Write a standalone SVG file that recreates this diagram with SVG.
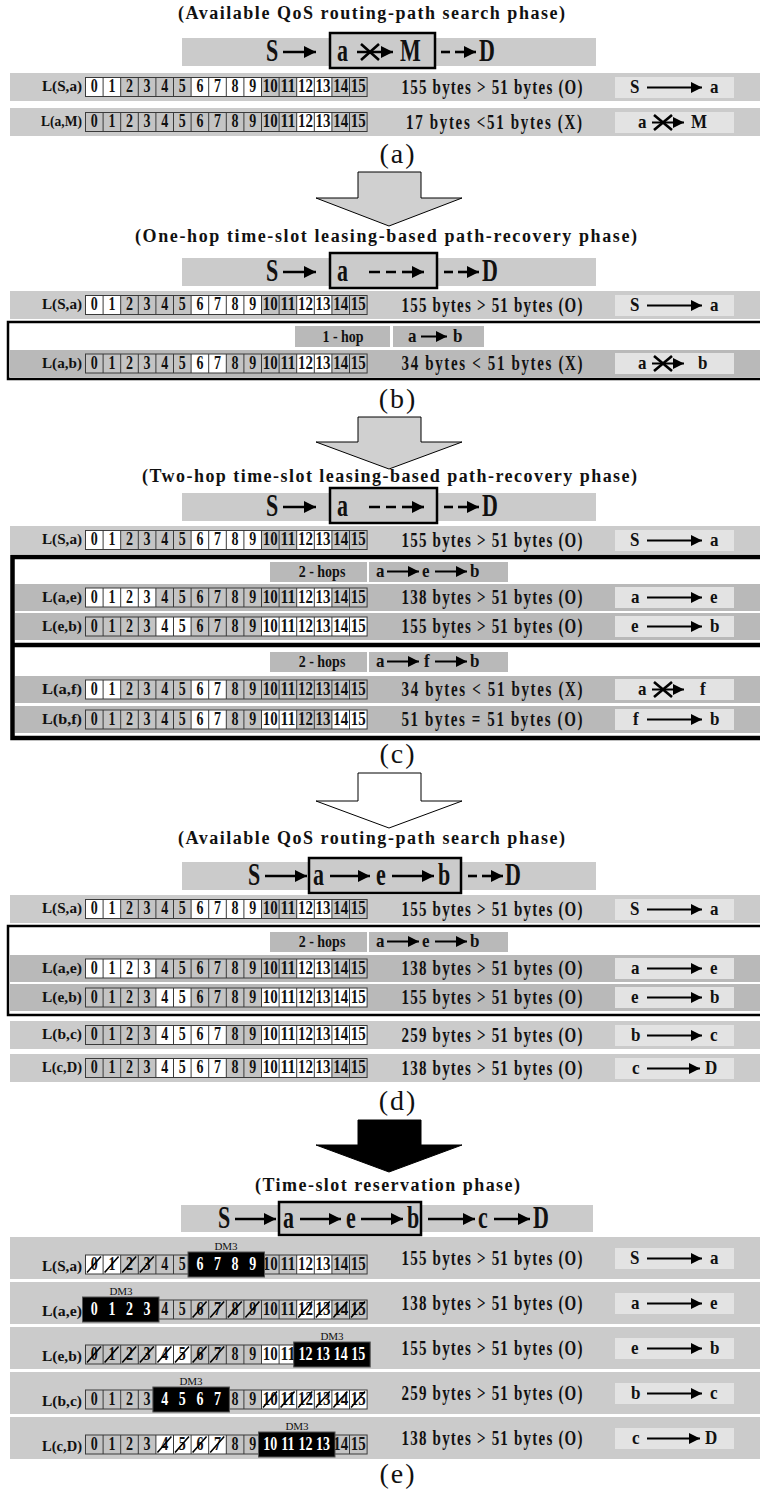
<svg xmlns="http://www.w3.org/2000/svg" width="760" height="1493" viewBox="0 0 760 1493">
<style>
text{font-family:"Liberation Serif","Times New Roman",serif;font-weight:bold;fill:#111}
.ttl{font-size:18px;text-anchor:middle}
.lab{font-size:12px;text-anchor:end}
.st{font-size:15px;text-anchor:middle}
.big{font-size:22px}
.rb{font-size:17px}
.hop{font-size:14px;text-anchor:middle}
.cap{font-size:28px;font-weight:normal;text-anchor:middle;letter-spacing:2px}
.dg{font-size:14px;text-anchor:middle}
.dw text{font-size:14px;text-anchor:middle;fill:#fff}
.dm{font-size:11px;font-weight:normal;text-anchor:middle}
.bar{fill:#cbcbcb}
.bar2{fill:#b9b9b9}
.rbox{fill:#e3e3e3}
.cg{fill:#c4c4c4}
.wc{fill:#fff}
.grid{fill:none;stroke:#3a3a3a;stroke-width:1}
.hl{fill:#cbcbcb;stroke:#000;stroke-width:2.5}
.pa{stroke:#000;stroke-width:2.6;fill:none}
.ra{stroke:#000;stroke-width:2;fill:none}
.xx{stroke:#000;stroke-width:2.6;fill:none}
.sl{stroke:#000;stroke-width:1.6;fill:none}
.blk{fill:#000;stroke:#555;stroke-width:1}
.frame{fill:#fff;stroke:#000}
</style>
<defs>
<marker id="ahb" viewBox="0 0 10 10" refX="10" refY="5" markerUnits="userSpaceOnUse" markerWidth="12" markerHeight="12" orient="auto"><path d="M0,0 L10,5 L0,10 z" fill="#000"/></marker>
<marker id="ah" viewBox="0 0 10 10" refX="10" refY="5" markerUnits="userSpaceOnUse" markerWidth="12" markerHeight="11" orient="auto"><path d="M0,0 L10,5 L0,10 z" fill="#000"/></marker>
<!-- 16-slot frame, 17.6 px per slot -->
<g id="grid">
<rect class="grid" x="0" y="0" width="281.6" height="19"/>
<path class="grid" d="M17.6,0v19M35.2,0v19M52.8,0v19M70.4,0v19M88,0v19M105.6,0v19M123.2,0v19M140.8,0v19M158.4,0v19M176,0v19M193.6,0v19M211.2,0v19M228.8,0v19M246.4,0v19M264,0v19"/>
</g>
<g id="dg" class="dg" transform="scale(1,1.35)">
<text x="8.8" y="11.1">0</text><text x="26.4" y="11.1">1</text><text x="44" y="11.1">2</text><text x="61.6" y="11.1">3</text>
<text x="79.2" y="11.1">4</text><text x="96.8" y="11.1">5</text><text x="114.4" y="11.1">6</text><text x="132" y="11.1">7</text>
<text x="149.6" y="11.1">8</text><text x="167.2" y="11.1">9</text>
<text x="184.8" y="11.1" textLength="15" lengthAdjust="spacingAndGlyphs">10</text>
<text x="202.4" y="11.1" textLength="15" lengthAdjust="spacingAndGlyphs">11</text>
<text x="220" y="11.1" textLength="15" lengthAdjust="spacingAndGlyphs">12</text>
<text x="237.6" y="11.1" textLength="15" lengthAdjust="spacingAndGlyphs">13</text>
<text x="255.2" y="11.1" textLength="15" lengthAdjust="spacingAndGlyphs">14</text>
<text x="272.8" y="11.1" textLength="15" lengthAdjust="spacingAndGlyphs">15</text>
</g>
<!-- slot strips: gray = busy, white = free -->
<g id="s-SA"><rect class="cg" width="281.6" height="19"/><path class="wc" d="M0,0h35.2v19h-35.2zM105.6,0h70.4v19h-70.4zM211.2,0h35.2v19h-35.2z"/><use href="#grid"/><use href="#dg"/></g>
<g id="s-aM"><rect class="cg" width="281.6" height="19"/><path class="wc" d="M211.2,0h35.2v19h-35.2z"/><use href="#grid"/><use href="#dg"/></g>
<g id="s-ab"><rect class="cg" width="281.6" height="19"/><path class="wc" d="M105.6,0h35.2v19h-35.2zM211.2,0h35.2v19h-35.2z"/><use href="#grid"/><use href="#dg"/></g>
<g id="s-ae"><rect class="cg" width="281.6" height="19"/><path class="wc" d="M0,0h70.4v19h-70.4zM211.2,0h35.2v19h-35.2z"/><use href="#grid"/><use href="#dg"/></g>
<g id="s-eb"><rect class="cg" width="281.6" height="19"/><path class="wc" d="M70.4,0h35.2v19h-35.2zM176,0h105.6v19h-105.6z"/><use href="#grid"/><use href="#dg"/></g>
<g id="s-af"><rect class="cg" width="281.6" height="19"/><path class="wc" d="M0,0h35.2v19h-35.2zM105.6,0h35.2v19h-35.2z"/><use href="#grid"/><use href="#dg"/></g>
<g id="s-bf"><rect class="cg" width="281.6" height="19"/><path class="wc" d="M105.6,0h35.2v19h-35.2zM176,0h35.2v19h-35.2zM246.4,0h35.2v19h-35.2z"/><use href="#grid"/><use href="#dg"/></g>
<g id="s-bc"><rect class="cg" width="281.6" height="19"/><path class="wc" d="M70.4,0h70.4v19h-70.4zM176,0h105.6v19h-105.6z"/><use href="#grid"/><use href="#dg"/></g>
<g id="s-cD"><rect class="cg" width="281.6" height="19"/><path class="wc" d="M70.4,0h70.4v19h-70.4zM176,0h70.4v19h-70.4z"/><use href="#grid"/><use href="#dg"/></g>
</defs>

<rect width="760" height="1493" fill="#fff"/>

<!-- ===== (a) ===== -->
<text class="ttl" x="371.5" y="19" textLength="387" lengthAdjust="spacing">(Available QoS routing-path search  phase)</text>
<g id="path-a">
<rect class="bar" x="182" y="38" width="414" height="28"/>
<rect class="hl" x="330" y="33" width="105" height="35"/>
<text class="big" transform="translate(266,61) scale(1,1.45)">S</text>
<line class="pa" x1="283" y1="52" x2="316" y2="52" marker-end="url(#ahb)"/>
<text class="big" transform="translate(337,61) scale(1,1.45)">a</text>
<line class="pa" x1="357" y1="52" x2="393" y2="52" marker-end="url(#ahb)"/>
<path class="xx" d="M361,44L379,60M361,60L379,44"/>
<text class="big" transform="translate(400,61) scale(1,1.45)">M</text>
<path class="pa" d="M441,52h9"/>
<line class="pa" x1="455" y1="52" x2="476" y2="52" marker-end="url(#ahb)"/>
<text class="big" transform="translate(479,61) scale(1,1.45)">D</text>
</g>
<g id="row-a1">
<rect class="bar" x="10" y="73" width="750" height="28"/>
<text class="lab" transform="translate(82,91) scale(1,1.25)" textLength="40" lengthAdjust="spacingAndGlyphs">L(S,a)</text>
<use href="#s-SA" x="85.5" y="77.5"/>
<text class="st" transform="translate(492,94) scale(1,1.4)" textLength="181" lengthAdjust="spacing">155 bytes &gt; 51 bytes (O)</text>
<rect class="rbox" x="615" y="77" width="119" height="21"/>
<text class="rb" transform="translate(630,93) scale(1,1.15)">S</text>
<line class="ra" x1="647" y1="87.5" x2="702" y2="87.5" marker-end="url(#ah)"/>
<text class="rb" transform="translate(710,93) scale(1,1.15)">a</text>
</g>
<g id="row-a2">
<rect class="bar" x="10" y="108" width="750" height="28"/>
<text class="lab" transform="translate(82,126) scale(1,1.25)" textLength="41" lengthAdjust="spacingAndGlyphs">L(a,M)</text>
<use href="#s-aM" x="85.5" y="112.5"/>
<text class="st" transform="translate(494,129) scale(1,1.4)" textLength="176" lengthAdjust="spacing">17 bytes  &lt;51 bytes (X)</text>
<rect class="rbox" x="615" y="112" width="119" height="21"/>
<text class="rb" transform="translate(638,128) scale(1,1.15)">a</text>
<line class="ra" x1="652" y1="122.5" x2="684" y2="122.5" marker-end="url(#ah)"/>
<path class="xx" d="M654,115L672,130M654,130L672,115"/>
<text class="rb" transform="translate(691,128) scale(1,1.15)">M</text>
</g>
<text class="cap" x="398" y="163">(a)</text>

<!-- ===== (b) ===== -->
<text class="ttl" x="386" y="242" textLength="502" lengthAdjust="spacing">(One-hop time-slot leasing-based path-recovery phase)</text>
<g id="path-b">
<rect class="bar" x="182" y="258" width="414" height="28"/>
<rect class="hl" x="330" y="253" width="107" height="35"/>
<text class="big" transform="translate(266,281) scale(1,1.45)">S</text>
<line class="pa" x1="283" y1="272" x2="316" y2="272" marker-end="url(#ahb)"/>
<text class="big" transform="translate(337,281) scale(1,1.45)">a</text>
<path class="pa" d="M369,272h11M386,272h10"/>
<line class="pa" x1="402" y1="272" x2="424" y2="272" marker-end="url(#ahb)"/>
<path class="pa" d="M444,272h9"/>
<line class="pa" x1="458" y1="272" x2="479" y2="272" marker-end="url(#ahb)"/>
<text class="big" transform="translate(482,281) scale(1,1.45)">D</text>
</g>
<g id="row-b1">
<rect class="bar" x="10" y="291" width="750" height="28"/>
<text class="lab" transform="translate(82,309) scale(1,1.25)" textLength="40" lengthAdjust="spacingAndGlyphs">L(S,a)</text>
<use href="#s-SA" x="85.5" y="295.5"/>
<text class="st" transform="translate(492,312) scale(1,1.4)" textLength="181" lengthAdjust="spacing">155 bytes &gt; 51 bytes (O)</text>
<rect class="rbox" x="615" y="295" width="119" height="21"/>
<text class="rb" transform="translate(630,311) scale(1,1.15)">S</text>
<line class="ra" x1="647" y1="305.5" x2="702" y2="305.5" marker-end="url(#ah)"/>
<text class="rb" transform="translate(710,311) scale(1,1.15)">a</text>
</g>
<g id="box-b">
<rect class="frame" x="8" y="322" width="760" height="57" stroke-width="2.5"/>
<rect class="bar2" x="295" y="326" width="95" height="21"/>
<text class="hop" transform="translate(343,342) scale(1,1.2)">1 - hop</text>
<rect class="bar2" x="393" y="326" width="91" height="21"/>
<text class="rb" transform="translate(408,342) scale(1,1.15)">a</text>
<line class="ra" x1="421" y1="336.5" x2="447" y2="336.5" marker-end="url(#ah)"/>
<text class="rb" transform="translate(453,342) scale(1,1.15)">b</text>
</g>
<g id="row-b2">
<rect class="bar2" x="10" y="350" width="750" height="27"/>
<text class="lab" transform="translate(82,368) scale(1,1.25)" textLength="40" lengthAdjust="spacingAndGlyphs">L(a,b)</text>
<use href="#s-ab" x="85.5" y="354"/>
<text class="st" transform="translate(492,370) scale(1,1.4)" textLength="181" lengthAdjust="spacing">34 bytes  &lt;  51 bytes (X)</text>
<rect class="rbox" x="615" y="353" width="119" height="21"/>
<text class="rb" transform="translate(638,369) scale(1,1.15)">a</text>
<line class="ra" x1="652" y1="363.5" x2="684" y2="363.5" marker-end="url(#ah)"/>
<path class="xx" d="M654,356L672,371M654,371L672,356"/>
<text class="rb" transform="translate(698,369) scale(1,1.15)">b</text>
</g>
<text class="cap" x="398" y="408">(b)</text>

<!-- ===== (c) ===== -->
<text class="ttl" x="389.5" y="482" textLength="495" lengthAdjust="spacing">(Two-hop time-slot leasing-based path-recovery phase)</text>
<g id="path-c">
<rect class="bar" x="182" y="493" width="414" height="28"/>
<rect class="hl" x="330" y="488" width="107" height="35"/>
<text class="big" transform="translate(266,516) scale(1,1.45)">S</text>
<line class="pa" x1="283" y1="507" x2="316" y2="507" marker-end="url(#ahb)"/>
<text class="big" transform="translate(337,516) scale(1,1.45)">a</text>
<path class="pa" d="M369,507h11M386,507h10"/>
<line class="pa" x1="402" y1="507" x2="424" y2="507" marker-end="url(#ahb)"/>
<path class="pa" d="M444,507h9"/>
<line class="pa" x1="458" y1="507" x2="479" y2="507" marker-end="url(#ahb)"/>
<text class="big" transform="translate(482,516) scale(1,1.45)">D</text>
</g>
<g id="row-c1">
<rect class="bar" x="10" y="526" width="750" height="28"/>
<text class="lab" transform="translate(82,544) scale(1,1.25)" textLength="40" lengthAdjust="spacingAndGlyphs">L(S,a)</text>
<use href="#s-SA" x="85.5" y="530.5"/>
<text class="st" transform="translate(492,547) scale(1,1.4)" textLength="181" lengthAdjust="spacing">155 bytes &gt; 51 bytes (O)</text>
<rect class="rbox" x="615" y="530" width="119" height="21"/>
<text class="rb" transform="translate(630,546) scale(1,1.15)">S</text>
<line class="ra" x1="647" y1="540.5" x2="702" y2="540.5" marker-end="url(#ah)"/>
<text class="rb" transform="translate(710,546) scale(1,1.15)">a</text>
</g>
<g id="box-c">
<rect class="frame" x="12.5" y="557" width="760" height="181" stroke-width="4.5"/>
<line x1="12" y1="645" x2="760" y2="645" stroke="#000" stroke-width="4.5"/>
<rect class="bar2" x="270" y="562" width="97" height="20"/>
<text class="hop" transform="translate(322,577) scale(1,1.2)">2 - hops</text>
<rect class="bar2" x="369" y="562" width="139" height="20"/>
<text class="rb" transform="translate(376,577) scale(1,1.15)">a</text>
<line class="ra" x1="387" y1="571.5" x2="419" y2="571.5" marker-end="url(#ah)"/>
<text class="rb" transform="translate(422,577) scale(1,1.15)">e</text>
<line class="ra" x1="435" y1="571.5" x2="467" y2="571.5" marker-end="url(#ah)"/>
<text class="rb" transform="translate(470,577) scale(1,1.15)">b</text>
<rect class="bar2" x="270" y="652" width="97" height="20"/>
<text class="hop" transform="translate(322,667) scale(1,1.2)">2 - hops</text>
<rect class="bar2" x="369" y="652" width="139" height="20"/>
<text class="rb" transform="translate(376,667) scale(1,1.15)">a</text>
<line class="ra" x1="387" y1="661.5" x2="419" y2="661.5" marker-end="url(#ah)"/>
<text class="rb" transform="translate(424,667) scale(1,1.15)">f</text>
<line class="ra" x1="435" y1="661.5" x2="467" y2="661.5" marker-end="url(#ah)"/>
<text class="rb" transform="translate(470,667) scale(1,1.15)">b</text>
</g>
<g id="row-c2">
<rect class="bar2" x="15" y="584" width="745" height="27"/>
<text class="lab" transform="translate(82,602) scale(1,1.25)" textLength="40" lengthAdjust="spacingAndGlyphs">L(a,e)</text>
<use href="#s-ae" x="85.5" y="588"/>
<text class="st" transform="translate(492,604) scale(1,1.4)" textLength="181" lengthAdjust="spacing">138 bytes &gt; 51 bytes (O)</text>
<rect class="rbox" x="615" y="587" width="119" height="21"/>
<text class="rb" transform="translate(631,603) scale(1,1.15)">a</text>
<line class="ra" x1="647" y1="597.5" x2="702" y2="597.5" marker-end="url(#ah)"/>
<text class="rb" transform="translate(710,603) scale(1,1.15)">e</text>
</g>
<g id="row-c3">
<rect class="bar2" x="15" y="613" width="745" height="27"/>
<text class="lab" transform="translate(82,631) scale(1,1.25)" textLength="40" lengthAdjust="spacingAndGlyphs">L(e,b)</text>
<use href="#s-eb" x="85.5" y="617"/>
<text class="st" transform="translate(492,633) scale(1,1.4)" textLength="181" lengthAdjust="spacing">155 bytes &gt; 51 bytes (O)</text>
<rect class="rbox" x="615" y="616" width="119" height="21"/>
<text class="rb" transform="translate(631,632) scale(1,1.15)">e</text>
<line class="ra" x1="647" y1="626.5" x2="702" y2="626.5" marker-end="url(#ah)"/>
<text class="rb" transform="translate(710,632) scale(1,1.15)">b</text>
</g>
<g id="row-c4">
<rect class="bar2" x="15" y="676" width="745" height="27"/>
<text class="lab" transform="translate(82,694) scale(1,1.25)" textLength="40" lengthAdjust="spacingAndGlyphs">L(a,f)</text>
<use href="#s-af" x="85.5" y="680"/>
<text class="st" transform="translate(492,696) scale(1,1.4)" textLength="181" lengthAdjust="spacing">34 bytes  &lt;  51 bytes (X)</text>
<rect class="rbox" x="615" y="679" width="119" height="21"/>
<text class="rb" transform="translate(638,695) scale(1,1.15)">a</text>
<line class="ra" x1="652" y1="689.5" x2="684" y2="689.5" marker-end="url(#ah)"/>
<path class="xx" d="M654,682L672,697M654,697L672,682"/>
<text class="rb" transform="translate(700,695) scale(1,1.15)">f</text>
</g>
<g id="row-c5">
<rect class="bar2" x="15" y="706" width="745" height="27"/>
<text class="lab" transform="translate(82,724) scale(1,1.25)" textLength="40" lengthAdjust="spacingAndGlyphs">L(b,f)</text>
<use href="#s-bf" x="85.5" y="710"/>
<text class="st" transform="translate(492,726) scale(1,1.4)" textLength="181" lengthAdjust="spacing">51 bytes  =  51 bytes (O)</text>
<rect class="rbox" x="615" y="709" width="119" height="21"/>
<text class="rb" transform="translate(633,725) scale(1,1.15)">f</text>
<line class="ra" x1="647" y1="719.5" x2="702" y2="719.5" marker-end="url(#ah)"/>
<text class="rb" transform="translate(710,725) scale(1,1.15)">b</text>
</g>
<text class="cap" x="398" y="763">(c)</text>

<!-- ===== (d) ===== -->
<text class="ttl" x="371.5" y="844" textLength="387" lengthAdjust="spacing">(Available QoS routing-path search  phase)</text>
<g id="path-d">
<rect class="bar" x="182" y="862" width="414" height="28"/>
<rect class="hl" x="309" y="858" width="152" height="35"/>
<text class="big" transform="translate(248,885) scale(1,1.45)">S</text>
<line class="pa" x1="265" y1="876" x2="307" y2="876" marker-end="url(#ahb)"/>
<text class="big" transform="translate(313,885) scale(1,1.45)">a</text>
<line class="pa" x1="330" y1="876" x2="370" y2="876" marker-end="url(#ahb)"/>
<text class="big" transform="translate(376,885) scale(1,1.45)">e</text>
<line class="pa" x1="392" y1="876" x2="434" y2="876" marker-end="url(#ahb)"/>
<text class="big" transform="translate(438,885) scale(1,1.45)">b</text>
<path class="pa" d="M468,876h9"/>
<line class="pa" x1="482" y1="876" x2="503" y2="876" marker-end="url(#ahb)"/>
<text class="big" transform="translate(505,885) scale(1,1.45)">D</text>
</g>
<g id="row-d1">
<rect class="bar" x="10" y="895" width="750" height="28"/>
<text class="lab" transform="translate(82,913) scale(1,1.25)" textLength="40" lengthAdjust="spacingAndGlyphs">L(S,a)</text>
<use href="#s-SA" x="85.5" y="899.5"/>
<text class="st" transform="translate(492,916) scale(1,1.4)" textLength="181" lengthAdjust="spacing">155 bytes &gt; 51 bytes (O)</text>
<rect class="rbox" x="615" y="899" width="119" height="21"/>
<text class="rb" transform="translate(630,915) scale(1,1.15)">S</text>
<line class="ra" x1="647" y1="909.5" x2="702" y2="909.5" marker-end="url(#ah)"/>
<text class="rb" transform="translate(710,915) scale(1,1.15)">a</text>
</g>
<g id="box-d">
<rect class="frame" x="8" y="926" width="760" height="89" stroke-width="2.5"/>
<rect class="bar2" x="270" y="932" width="97" height="20"/>
<text class="hop" transform="translate(322,947) scale(1,1.2)">2 - hops</text>
<rect class="bar2" x="369" y="932" width="139" height="20"/>
<text class="rb" transform="translate(376,947) scale(1,1.15)">a</text>
<line class="ra" x1="387" y1="941.5" x2="419" y2="941.5" marker-end="url(#ah)"/>
<text class="rb" transform="translate(422,947) scale(1,1.15)">e</text>
<line class="ra" x1="435" y1="941.5" x2="467" y2="941.5" marker-end="url(#ah)"/>
<text class="rb" transform="translate(470,947) scale(1,1.15)">b</text>
</g>
<g id="row-d2">
<rect class="bar2" x="10" y="955" width="750" height="27"/>
<text class="lab" transform="translate(82,973) scale(1,1.25)" textLength="40" lengthAdjust="spacingAndGlyphs">L(a,e)</text>
<use href="#s-ae" x="85.5" y="959"/>
<text class="st" transform="translate(492,975) scale(1,1.4)" textLength="181" lengthAdjust="spacing">138 bytes &gt; 51 bytes (O)</text>
<rect class="rbox" x="615" y="958" width="119" height="21"/>
<text class="rb" transform="translate(631,974) scale(1,1.15)">a</text>
<line class="ra" x1="647" y1="968.5" x2="702" y2="968.5" marker-end="url(#ah)"/>
<text class="rb" transform="translate(710,974) scale(1,1.15)">e</text>
</g>
<g id="row-d3">
<rect class="bar2" x="10" y="984" width="750" height="27"/>
<text class="lab" transform="translate(82,1002) scale(1,1.25)" textLength="40" lengthAdjust="spacingAndGlyphs">L(e,b)</text>
<use href="#s-eb" x="85.5" y="988"/>
<text class="st" transform="translate(492,1004) scale(1,1.4)" textLength="181" lengthAdjust="spacing">155 bytes &gt; 51 bytes (O)</text>
<rect class="rbox" x="615" y="987" width="119" height="21"/>
<text class="rb" transform="translate(631,1003) scale(1,1.15)">e</text>
<line class="ra" x1="647" y1="997.5" x2="702" y2="997.5" marker-end="url(#ah)"/>
<text class="rb" transform="translate(710,1003) scale(1,1.15)">b</text>
</g>
<g id="row-d4">
<rect class="bar" x="10" y="1021" width="750" height="28"/>
<text class="lab" transform="translate(82,1039) scale(1,1.25)" textLength="40" lengthAdjust="spacingAndGlyphs">L(b,c)</text>
<use href="#s-bc" x="85.5" y="1025.5"/>
<text class="st" transform="translate(492,1042) scale(1,1.4)" textLength="181" lengthAdjust="spacing">259 bytes &gt; 51 bytes (O)</text>
<rect class="rbox" x="615" y="1025" width="119" height="21"/>
<text class="rb" transform="translate(631,1041) scale(1,1.15)">b</text>
<line class="ra" x1="647" y1="1035.5" x2="702" y2="1035.5" marker-end="url(#ah)"/>
<text class="rb" transform="translate(710,1041) scale(1,1.15)">c</text>
</g>
<g id="row-d5">
<rect class="bar" x="10" y="1054" width="750" height="28"/>
<text class="lab" transform="translate(82,1072) scale(1,1.25)" textLength="40" lengthAdjust="spacingAndGlyphs">L(c,D)</text>
<use href="#s-cD" x="85.5" y="1058.5"/>
<text class="st" transform="translate(492,1075) scale(1,1.4)" textLength="181" lengthAdjust="spacing">138 bytes &gt; 51 bytes (O)</text>
<rect class="rbox" x="615" y="1058" width="119" height="21"/>
<text class="rb" transform="translate(632,1074) scale(1,1.15)">c</text>
<line class="ra" x1="647" y1="1068.5" x2="700" y2="1068.5" marker-end="url(#ah)"/>
<text class="rb" transform="translate(705,1074) scale(1,1.15)">D</text>
</g>
<text class="cap" x="398" y="1110">(d)</text>

<!-- ===== (e) ===== -->
<text class="ttl" x="387.5" y="1191" textLength="265" lengthAdjust="spacing">(Time-slot reservation phase)</text>
<g id="path-e">
<rect class="bar" x="181" y="1205" width="412" height="27"/>
<rect class="hl" x="279" y="1202" width="142" height="33"/>
<text class="big" transform="translate(218,1228) scale(1,1.45)">S</text>
<line class="pa" x1="235" y1="1219" x2="276" y2="1219" marker-end="url(#ahb)"/>
<text class="big" transform="translate(283,1228) scale(1,1.45)">a</text>
<line class="pa" x1="300" y1="1219" x2="341" y2="1219" marker-end="url(#ahb)"/>
<text class="big" transform="translate(346,1228) scale(1,1.45)">e</text>
<line class="pa" x1="361" y1="1219" x2="403" y2="1219" marker-end="url(#ahb)"/>
<text class="big" transform="translate(407,1228) scale(1,1.45)">b</text>
<line class="pa" x1="428" y1="1219" x2="475" y2="1219" marker-end="url(#ahb)"/>
<text class="big" transform="translate(478,1228) scale(1,1.45)">c</text>
<line class="pa" x1="494" y1="1219" x2="530" y2="1219" marker-end="url(#ahb)"/>
<text class="big" transform="translate(533,1228) scale(1,1.45)">D</text>
</g>
<g id="row-e1">
<rect class="bar" x="10" y="1237" width="750" height="42"/>
<text class="lab" transform="translate(82,1271) scale(1,1.25)" textLength="40" lengthAdjust="spacingAndGlyphs">L(S,a)</text>
<use href="#s-SA" x="85.5" y="1255"/>
<path class="sl" d="M87,1272.5L101,1256.5M104.6,1272.5L118.6,1256.5M122.2,1272.5L136.2,1256.5M139.8,1272.5L153.8,1256.5"/>
<rect class="blk" x="188" y="1252" width="76.5" height="25"/>
<g class="dw" transform="translate(0,1270) scale(1,1.35)"><text x="199.9">6</text><text x="217.5">7</text><text x="235.1">8</text><text x="252.7">9</text></g>
<text class="dm" x="226" y="1250">DM3</text>
<text class="st" transform="translate(492,1265) scale(1,1.4)" textLength="181" lengthAdjust="spacing">155 bytes &gt; 51 bytes (O)</text>
<rect class="rbox" x="615" y="1248" width="119" height="21"/>
<text class="rb" transform="translate(630,1264) scale(1,1.15)">S</text>
<line class="ra" x1="647" y1="1258.5" x2="702" y2="1258.5" marker-end="url(#ah)"/>
<text class="rb" transform="translate(710,1264) scale(1,1.15)">a</text>
</g>
<g id="row-e2">
<rect class="bar" x="10" y="1282" width="750" height="42"/>
<text class="lab" transform="translate(82,1316) scale(1,1.25)" textLength="40" lengthAdjust="spacingAndGlyphs">L(a,e)</text>
<use href="#s-ae" x="85.5" y="1300"/>
<path class="sl" d="M192.6,1317.5L206.6,1301.5M210.2,1317.5L224.2,1301.5M227.8,1317.5L241.8,1301.5M245.4,1317.5L259.4,1301.5M298.2,1317.5L312.2,1301.5M315.8,1317.5L329.8,1301.5M333.4,1317.5L347.4,1301.5M351,1317.5L365,1301.5"/>
<rect class="blk" x="82.5" y="1297" width="76.5" height="25"/>
<g class="dw" transform="translate(0,1315) scale(1,1.35)"><text x="94.3">0</text><text x="111.9">1</text><text x="129.5">2</text><text x="147.1">3</text></g>
<text class="dm" x="121" y="1295">DM3</text>
<text class="st" transform="translate(492,1310) scale(1,1.4)" textLength="181" lengthAdjust="spacing">138 bytes &gt; 51 bytes (O)</text>
<rect class="rbox" x="615" y="1293" width="119" height="21"/>
<text class="rb" transform="translate(631,1309) scale(1,1.15)">a</text>
<line class="ra" x1="647" y1="1303.5" x2="702" y2="1303.5" marker-end="url(#ah)"/>
<text class="rb" transform="translate(710,1309) scale(1,1.15)">e</text>
</g>
<g id="row-e3">
<rect class="bar" x="10" y="1327" width="750" height="42"/>
<text class="lab" transform="translate(82,1361) scale(1,1.25)" textLength="40" lengthAdjust="spacingAndGlyphs">L(e,b)</text>
<use href="#s-eb" x="85.5" y="1345"/>
<path class="sl" d="M87,1362.5L101,1346.5M104.6,1362.5L118.6,1346.5M122.2,1362.5L136.2,1346.5M139.8,1362.5L153.8,1346.5M157.4,1362.5L171.4,1346.5M175,1362.5L189,1346.5M192.6,1362.5L206.6,1346.5M210.2,1362.5L224.2,1346.5"/>
<rect class="blk" x="293.7" y="1342" width="76.5" height="25"/>
<g class="dw" transform="translate(0,1360) scale(1,1.35)"><text x="305.5">12</text><text x="323.1">13</text><text x="340.7">14</text><text x="358.3">15</text></g>
<text class="dm" x="332" y="1340">DM3</text>
<text class="st" transform="translate(492,1355) scale(1,1.4)" textLength="181" lengthAdjust="spacing">155 bytes &gt; 51 bytes (O)</text>
<rect class="rbox" x="615" y="1338" width="119" height="21"/>
<text class="rb" transform="translate(631,1354) scale(1,1.15)">e</text>
<line class="ra" x1="647" y1="1348.5" x2="702" y2="1348.5" marker-end="url(#ah)"/>
<text class="rb" transform="translate(710,1354) scale(1,1.15)">b</text>
</g>
<g id="row-e4">
<rect class="bar" x="10" y="1372" width="750" height="42"/>
<text class="lab" transform="translate(82,1406) scale(1,1.25)" textLength="40" lengthAdjust="spacingAndGlyphs">L(b,c)</text>
<use href="#s-bc" x="85.5" y="1390"/>
<path class="sl" d="M263,1407.5L277,1391.5M280.6,1407.5L294.6,1391.5M298.2,1407.5L312.2,1391.5M315.8,1407.5L329.8,1391.5M333.4,1407.5L347.4,1391.5M351,1407.5L365,1391.5"/>
<rect class="blk" x="152.9" y="1387" width="76.5" height="25"/>
<g class="dw" transform="translate(0,1405) scale(1,1.35)"><text x="164.7">4</text><text x="182.3">5</text><text x="199.9">6</text><text x="217.5">7</text></g>
<text class="dm" x="191" y="1385">DM3</text>
<text class="st" transform="translate(492,1400) scale(1,1.4)" textLength="181" lengthAdjust="spacing">259 bytes &gt; 51 bytes (O)</text>
<rect class="rbox" x="615" y="1383" width="119" height="21"/>
<text class="rb" transform="translate(631,1399) scale(1,1.15)">b</text>
<line class="ra" x1="647" y1="1393.5" x2="702" y2="1393.5" marker-end="url(#ah)"/>
<text class="rb" transform="translate(710,1399) scale(1,1.15)">c</text>
</g>
<g id="row-e5">
<rect class="bar" x="10" y="1417" width="750" height="42"/>
<text class="lab" transform="translate(82,1451) scale(1,1.25)" textLength="40" lengthAdjust="spacingAndGlyphs">L(c,D)</text>
<use href="#s-cD" x="85.5" y="1435"/>
<path class="sl" d="M157.4,1452.5L171.4,1436.5M175,1452.5L189,1436.5M192.6,1452.5L206.6,1436.5M210.2,1452.5L224.2,1436.5"/>
<rect class="blk" x="258.5" y="1432" width="76.5" height="25"/>
<g class="dw" transform="translate(0,1450) scale(1,1.35)"><text x="270.3">10</text><text x="287.9">11</text><text x="305.5">12</text><text x="323.1">13</text></g>
<text class="dm" x="297" y="1430">DM3</text>
<text class="st" transform="translate(492,1445) scale(1,1.4)" textLength="181" lengthAdjust="spacing">138 bytes &gt; 51 bytes (O)</text>
<rect class="rbox" x="615" y="1428" width="119" height="21"/>
<text class="rb" transform="translate(632,1444) scale(1,1.15)">c</text>
<line class="ra" x1="647" y1="1438.5" x2="700" y2="1438.5" marker-end="url(#ah)"/>
<text class="rb" transform="translate(705,1444) scale(1,1.15)">D</text>
</g>
<text class="cap" x="398" y="1483">(e)</text>

<!-- block arrows between phases -->
<g id="connectors" stroke="#000" stroke-width="1">
<path d="M358,172H421V198H462L389,226L316,198H358Z" fill="#d0d0d0"/>
<path d="M358,417H421V442H462L389,469L316,442H358Z" fill="#d0d0d0"/>
<path d="M358,773H421V801H462L389,828L316,801H358Z" fill="#fff"/>
<path d="M358,1120H421V1145H462L389,1172L316,1145H358Z" fill="#000"/>
</g>
</svg>
